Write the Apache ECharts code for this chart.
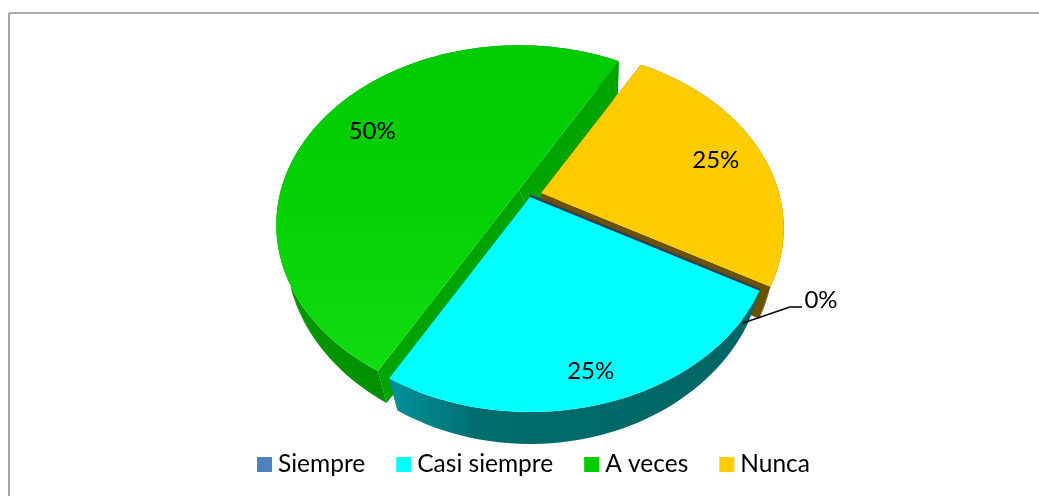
<!DOCTYPE html>
<html><head><meta charset="utf-8">
<style>html,body{margin:0;padding:0;background:#fff}#c{width:1039px;height:496px}</style>
<script src="https://cdn.jsdelivr.net/npm/echarts@6/dist/echarts.min.js"></script></head>
<body><div id="c"></div>
<script>
const categories = ['Siempre','Casi siempre','A veces','Nunca'];
const percents = [0,25,50,25];
const colors = ['#4F81BD','#00FFFF','#00CC00','#FFCC00'];

// drawing style per slice
const START = 29.4, RX = 238, RY = 172.6, K = 0.197, DEPTH = 32;
const centers = [[530,195.5],[530,197],[519,189.5],[541,193]];
const labelR = [0,0.87,0.76,0.79];
const labelNudge = [[0,0],[-6,1],[0,2],[1,2]];
const zOrder = [4,3,1,2];
const wallShift = [0,0,14,0];
const wallsOnTop = [false,false,true,false];
const topFill = [null,'#00FFFF',
  {type:'linear',x:0,y:0,x2:0,y2:1,colorStops:[{offset:0,color:'#00CB00'},{offset:0.45,color:'#03D003'},{offset:1,color:'#10DC10'}]},'#FFCC00'];
const wallFill = ['#2E3A68','#006464','#00A400','#6A5200'];
const outerFill = ['#2E3A68',
  {type:'linear',x:0,y:0,x2:1,y2:0,colorStops:[{offset:0,color:'#00929C'},{offset:0.25,color:'#006C6C'},{offset:1,color:'#006464'}]},
  {type:'linear',x:0,y:0,x2:1,y2:0,colorStops:[{offset:0,color:'#009A00'},{offset:0.6,color:'#008500'},{offset:0.85,color:'#006F00'},{offset:1,color:'#007A00'}]},
  '#6A5200'];
const labelFont = '24px Lato';

function proj(idx, tDeg, r, d){
  const c = centers[idx], t = tDeg*Math.PI/180;
  const u = r*Math.cos(t), v = r*Math.sin(t), den = 1-K*v;
  return [c[0]+RX*u/den*(1-d*(0.035+0.03*v)), c[1]+RY*v/den+d*DEPTH];
}
function renderSlice(idx){
  return function(params, api){
    const pct = api.value(0), prior = api.value(1);
    const a0 = START+prior*3.6, a1 = a0+pct*3.6;
    const kids = [];
    if (pct === 0){
      const p = proj(idx,a0,1,0), q = proj(idx,a0,0,0);
      kids.push({type:'line',shape:{x1:q[0],y1:q[1],x2:p[0],y2:p[1]},style:{stroke:wallFill[idx],lineWidth:2}});
      // leader line and label of the empty slice
      kids.push({type:'polyline',shape:{points:[[743,323],[790,307],[802,307]]},style:{stroke:'#000',lineWidth:1.4,fill:null}});
      kids.push({type:'text',style:{x:821,y:300,text:pct+'%',font:labelFont,fill:'#000',align:'center',verticalAlign:'middle'}});
      return {type:'group',children:kids};
    }
    const top=[], bot=[];
    const n = Math.max(8,Math.round(pct*2.4));
    for(let i=0;i<=n;i++){
      const a=a0+(a1-a0)*i/n;
      top.push(proj(idx,a,1,0)); bot.push(proj(idx,a,1,1));
    }
    const c0=proj(idx,0,0,0), c1=proj(idx,0,0,1);
    c1[0]+=wallShift[idx];
    const outer = {type:'polygon',shape:{points:top.concat(bot.slice().reverse())},style:{fill:outerFill[idx]}};
    const walls = [
      {type:'polygon',shape:{points:[top[0],c0,c1,bot[0]]},style:{fill:wallFill[idx]}},
      {type:'polygon',shape:{points:[top[n],c0,c1,bot[n]]},style:{fill:wallFill[idx]}}
    ];
    if (wallsOnTop[idx]) kids.push(outer,...walls); else kids.push(...walls,outer);
    kids.push({type:'polygon',shape:{points:[c0].concat(top)},style:{fill:topFill[idx]}});
    const lp = proj(idx,(a0+a1)/2,labelR[idx],0);
    kids.push({type:'text',style:{x:lp[0]+labelNudge[idx][0],y:lp[1]+labelNudge[idx][1],text:pct+'%',font:labelFont,fill:'#000',align:'center',verticalAlign:'middle'}});
    return {type:'group',children:kids};
  };
}
let cum = 0;
const series = categories.map((name,i)=>{
  const s = {type:'custom',name:name,coordinateSystem:'none',z:zOrder[i],
    itemStyle:{color:colors[i]},silent:true,animation:false,
    renderItem:renderSlice(i),data:[[percents[i],cum]]};
  cum += percents[i];
  return s;
});
const chart = echarts.init(document.getElementById('c'),null,{renderer:'canvas'});
chart.setOption({
  animation:false,
  backgroundColor:'#fff',
  graphic:[
    {type:'line',shape:{x1:9,y1:13,x2:1039,y2:13},style:{stroke:'#8F8F8F',lineWidth:1.6},silent:true},
    {type:'line',shape:{x1:9,y1:13,x2:9,y2:496},style:{stroke:'#8F8F8F',lineWidth:1.6},silent:true}
  ],
  legend:{data:categories,left:257,top:452,itemWidth:15,itemHeight:15,itemGap:31,padding:0,icon:'rect',selectedMode:false,
    textStyle:{fontFamily:'Lato',fontSize:24.5,color:'#000',padding:[0,0,0,1]}},
  series:series
});
</script></body></html>
